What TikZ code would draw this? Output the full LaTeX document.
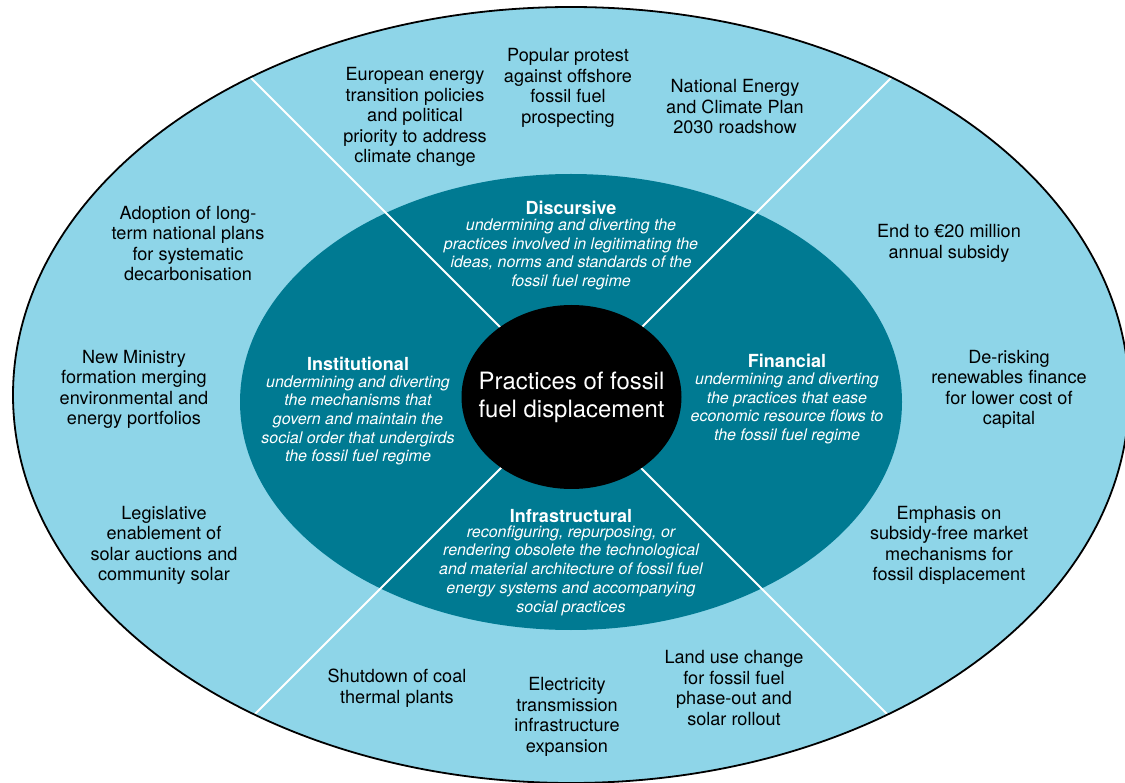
\documentclass[tikz,border=0pt]{standalone}
\usepackage{fontspec}
\setmainfont{TeX Gyre Heros}
\definecolor{ringblue}{HTML}{8ED5E8}
\definecolor{midteal}{HTML}{007A92}
\begin{document}
\begin{tikzpicture}[x=1pt,y=-1pt,
  outertext/.style={font=\fontsize{18.1}{20.5}\selectfont, text=black, align=center, inner sep=0pt},
  sectitle/.style={font=\fontsize{18}{19}\selectfont\bfseries, text=white, inner sep=0pt},
  desc/.style={font=\fontsize{16}{18.7}\selectfont\itshape, text=white, align=center, inner sep=0pt},
  divider/.style={white, line width=2pt},
  coretext/.style={font=\fontsize{23.9}{28}\selectfont, text=white, align=center, inner sep=0pt}]
\useasboundingbox (0,0) rectangle (1125,783);
\coordinate (C) at (571,398);
\coordinate (ntl) at (171,-2);
\coordinate (ntr) at (971,-2);
\coordinate (nbl) at (171,798);
\coordinate (nbr) at (971,798);
\begin{scope}
  \clip (571,395) ellipse [x radius=558, y radius=388];
  \fill[ringblue] (571,395) ellipse [x radius=558, y radius=388];
  \fill[midteal] (571,402) ellipse [x radius=331, y radius=228];
  \draw[divider] (C) -- (ntl);
  \draw[divider] (C) -- (ntr);
  \draw[divider] (C) -- (nbl);
  \draw[divider] (C) -- (nbr);
\end{scope}
\draw[black, line width=1.8pt] (571,395) ellipse [x radius=558, y radius=388];
\fill[black] (571.5,397) ellipse [x radius=110, y radius=92];
\node[coretext] (core) at (571.5,397) {Practices of fossil\\fuel displacement};

% sections
\node[sectitle] (disc) at (571,208) {Discursive};
\node[desc] (discd) at (571,254.5) {undermining and diverting the\\practices involved in legitimating the\\ideas, norms and standards of the\\fossil fuel regime};
\node[sectitle] (inst) at (358,364) {Institutional};
\node[desc] (instd) at (358,420.5) {undermining and diverting\\the mechanisms that\\govern and maintain the\\social order that undergirds\\the fossil fuel regime};
\node[sectitle] (fin) at (787,361) {Financial};
\node[desc] (find) at (787,408.5) {undermining and diverting\\the practices that ease\\economic resource flows to\\the fossil fuel regime};
\node[sectitle] (infra) at (571,516) {Infrastructural};
\node[desc] (infrad) at (571,570.5) {reconfiguring, repurposing, or\\rendering obsolete the technological\\and material architecture of fossil fuel\\energy systems and accompanying\\social practices};

% outer ring texts
\node[outertext] (eu) at (415,117) {European energy\\transition policies\\and political\\priority to address\\climate change};
\node[outertext] (pp) at (568,88) {Popular protest\\against offshore\\fossil fuel\\prospecting};
\node[outertext] (ne) at (735,107) {National Energy\\and Climate Plan\\2030 roadshow};
\node[outertext] (ad) at (188,243.5) {Adoption of long-\\term national plans\\for systematic\\decarbonisation};
\node[outertext] (end) at (949,243.5) {End to €20 million\\annual subsidy};
\node[outertext] (nm) at (134,389.5) {New Ministry\\formation merging\\environmental and\\energy portfolios};
\node[outertext] (dr) at (1009,389.5) {De-risking\\renewables finance\\for lower cost of\\capital};
\node[outertext] (leg) at (164,545.5) {Legislative\\enablement of\\solar auctions and\\community solar};
\node[outertext] (emp) at (949,545.5) {Emphasis on\\subsidy-free market\\mechanisms for\\fossil displacement};
\node[outertext] (sd) at (397,688) {Shutdown of coal\\thermal plants};
\node[outertext] (el) at (567,717) {Electricity\\transmission\\infrastructure\\expansion};
\node[outertext] (lu) at (734,688) {Land use change\\for fossil fuel\\phase-out and\\solar rollout};
\end{tikzpicture}
\end{document}
